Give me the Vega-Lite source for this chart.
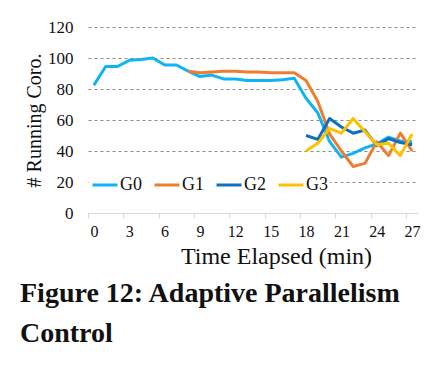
{
  "$schema": "https://vega.github.io/schema/vega-lite/v6.json",
  "autosize": "none",
  "width": 330,
  "height": 186,
  "padding": {"left": 88, "top": 27, "right": 16, "bottom": 163},
  "background": "white",
  "config": {
    "font": "Liberation Serif",
    "view": {"stroke": null}
  },
  "title": {
    "text": ["Figure 12: Adaptive Parallelism", "Control"],
    "orient": "bottom",
    "anchor": "start",
    "frame": "group",
    "dx": -68,
    "offset": 12,
    "font": "Liberation Serif",
    "fontSize": 28,
    "fontWeight": "bold",
    "color": "#111111",
    "lineHeight": 40
  },
  "data": {
    "values": [
      {"t": 0, "g": "G0", "v": 82.5}, {"t": 1, "g": "G0", "v": 94.5}, {"t": 2, "g": "G0", "v": 94.5}, {"t": 3, "g": "G0", "v": 98.5},
      {"t": 4, "g": "G0", "v": 99}, {"t": 5, "g": "G0", "v": 100}, {"t": 6, "g": "G0", "v": 95.5}, {"t": 7, "g": "G0", "v": 95.5},
      {"t": 8, "g": "G0", "v": 91.5}, {"t": 9, "g": "G0", "v": 88}, {"t": 10, "g": "G0", "v": 89}, {"t": 11, "g": "G0", "v": 86.5},
      {"t": 12, "g": "G0", "v": 86.5}, {"t": 13, "g": "G0", "v": 85.5}, {"t": 14, "g": "G0", "v": 85.5}, {"t": 15, "g": "G0", "v": 85.5},
      {"t": 16, "g": "G0", "v": 86}, {"t": 17, "g": "G0", "v": 87}, {"t": 18, "g": "G0", "v": 74}, {"t": 19, "g": "G0", "v": 64.5},
      {"t": 20, "g": "G0", "v": 46}, {"t": 21, "g": "G0", "v": 36}, {"t": 22, "g": "G0", "v": 38.5}, {"t": 23, "g": "G0", "v": 42},
      {"t": 24, "g": "G0", "v": 44.5}, {"t": 25, "g": "G0", "v": 49}, {"t": 26, "g": "G0", "v": 46.5}, {"t": 27, "g": "G0", "v": 46},
      {"t": 8, "g": "G1", "v": 91.5}, {"t": 9, "g": "G1", "v": 90.5}, {"t": 10, "g": "G1", "v": 91}, {"t": 11, "g": "G1", "v": 91.5},
      {"t": 12, "g": "G1", "v": 91.5}, {"t": 13, "g": "G1", "v": 91}, {"t": 14, "g": "G1", "v": 91}, {"t": 15, "g": "G1", "v": 90.5},
      {"t": 16, "g": "G1", "v": 90.5}, {"t": 17, "g": "G1", "v": 90.5}, {"t": 18, "g": "G1", "v": 85.5}, {"t": 19, "g": "G1", "v": 72},
      {"t": 20, "g": "G1", "v": 51}, {"t": 21, "g": "G1", "v": 40}, {"t": 22, "g": "G1", "v": 30}, {"t": 23, "g": "G1", "v": 32},
      {"t": 24, "g": "G1", "v": 46}, {"t": 25, "g": "G1", "v": 37}, {"t": 26, "g": "G1", "v": 51.5}, {"t": 27, "g": "G1", "v": 40},
      {"t": 18, "g": "G2", "v": 50}, {"t": 19, "g": "G2", "v": 47.5}, {"t": 20, "g": "G2", "v": 61}, {"t": 21, "g": "G2", "v": 55.5},
      {"t": 22, "g": "G2", "v": 51.5}, {"t": 23, "g": "G2", "v": 53.5}, {"t": 24, "g": "G2", "v": 43.5}, {"t": 25, "g": "G2", "v": 48},
      {"t": 26, "g": "G2", "v": 45.5}, {"t": 27, "g": "G2", "v": 44},
      {"t": 18, "g": "G3", "v": 40}, {"t": 19, "g": "G3", "v": 45}, {"t": 20, "g": "G3", "v": 54.5}, {"t": 21, "g": "G3", "v": 51.5},
      {"t": 22, "g": "G3", "v": 61}, {"t": 23, "g": "G3", "v": 52.5}, {"t": 24, "g": "G3", "v": 44}, {"t": 25, "g": "G3", "v": 45},
      {"t": 26, "g": "G3", "v": 37}, {"t": 27, "g": "G3", "v": 51}
    ]
  },
  "mark": {"type": "line", "strokeWidth": 3, "strokeJoin": "round"},
  "encoding": {
    "x": {
      "field": "t",
      "type": "quantitative",
      "scale": {"domain": [-0.5, 27.5], "nice": false, "zero": false},
      "axis": {
        "values": [0, 3, 6, 9, 12, 15, 18, 21, 24, 27],
        "title": "Time Elapsed (min)",
        "titleFont": "Liberation Serif",
        "titleFontSize": 24,
        "titleFontWeight": "normal",
        "titleColor": "#111111",
        "titleX": 188,
        "titlePadding": 5,
        "labelFont": "Liberation Serif",
        "labelFontSize": 16,
        "labelColor": "#111111",
        "labelPadding": 5,
        "labelFlush": false,
        "tickOffset": -5.9,
        "labelOffset": 5.9,
        "tickSize": 5,
        "tickColor": "#d9d9d9",
        "domainColor": "#d9d9d9",
        "domainWidth": 1,
        "grid": false
      }
    },
    "y": {
      "field": "v",
      "type": "quantitative",
      "scale": {"domain": [0, 120], "nice": false},
      "axis": {
        "values": [0, 20, 40, 60, 80, 100, 120],
        "title": "# Running Coro.",
        "titleFont": "Liberation Serif",
        "titleFontSize": 20,
        "titleFontWeight": "normal",
        "titleColor": "#111111",
        "titlePadding": 3,
        "labelFont": "Liberation Serif",
        "labelFontSize": 17,
        "labelColor": "#111111",
        "labelPadding": 15,
        "ticks": false,
        "domain": false,
        "grid": true,
        "gridColor": "#8c8c8c",
        "gridDash": [3, 3],
        "gridWidth": 1
      }
    },
    "color": {
      "field": "g",
      "type": "nominal",
      "scale": {"domain": ["G0", "G1", "G2", "G3"], "range": ["#0FB5F0", "#EE7D31", "#1070C0", "#FFC000"]},
      "legend": {
        "title": null,
        "orient": "none",
        "direction": "horizontal",
        "legendX": 1,
        "legendY": 142,
        "fillColor": "white",
        "padding": 2,
        "symbolType": "stroke",
        "symbolSize": 625,
        "symbolStrokeWidth": 3,
        "labelFont": "Liberation Serif",
        "labelFontSize": 18,
        "labelColor": "#111111",
        "labelOffset": 1,
        "columnPadding": 6
      }
    }
  }
}
